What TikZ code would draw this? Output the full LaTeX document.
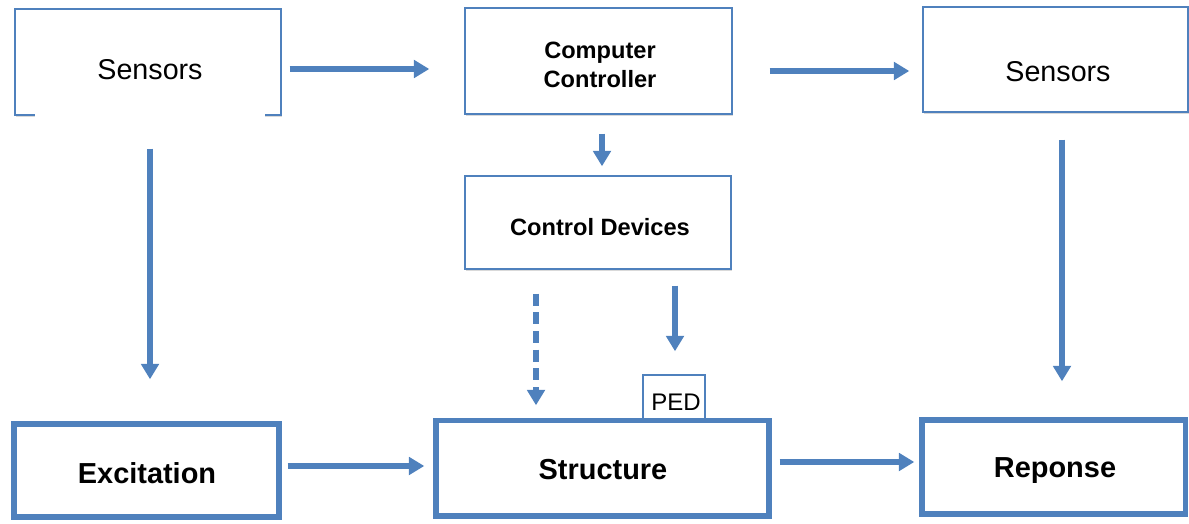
\documentclass[tikz,border=0pt]{standalone}
\usepackage{fontspec}
\setmainfont{Liberation Sans}
\usetikzlibrary{arrows.meta,shadows,fit}
\definecolor{bl}{HTML}{4F81BD}
\begin{document}
\begin{tikzpicture}[x=0.75pt,y=-0.75pt,
  shad/.style={drop shadow={shadow xshift=0.8pt,shadow yshift=-1.2pt,opacity=0.25,fill=black!60}},
  thinbox/.style={draw=bl,line width=1.1pt,fill=white,inner sep=0pt,shad},
  thickbox/.style={draw=bl,line width=4.1pt,fill=white,inner sep=0pt,shad},
  txt/.style={inner sep=0pt,anchor=base,text=black},
  reg/.style={txt,font=\fontsize{21.5pt}{26pt}\selectfont},
  bsmall/.style={txt,font=\bfseries\fontsize{17.7pt}{22pt}\selectfont},
  bbig/.style={txt,font=\bfseries\fontsize{21.7pt}{26pt}\selectfont},
  arr/.style={draw=bl,line width=4pt,-{Triangle[width=13pt,length=11.5pt]}},
  darr/.style={arr,dash pattern=on 9pt off 5pt}]
\useasboundingbox (0,0) rectangle (1189,524);

% boxes
\node[thinbox,fit={(15,9) (281,115)}] (s1) {};
\fill[white] (35,111) rectangle (265,122);
\node[thinbox,fit={(465,8) (732,114)}] (cc) {};
\node[thinbox,fit={(923,7) (1188,112)}] (s2) {};
\node[thinbox,fit={(465,176) (731,269)}] (cd) {};
\node[thinbox,fit={(643,375) (705,424)}] (ped) {};
\node[thickbox,fit={(14,424) (279,517)}] (exc) {};
\node[thickbox,fit={(436,420.5) (769,516)}] (str) {};
\node[thickbox,fit={(922,420) (1185.5,514)}] (resp) {};

% texts
\node[reg] (s1t) at (150,80) {Sensors};
\node[bsmall,anchor=center,align=center] (cct) at (600,65) {Computer\\Controller};
\node[reg] (s2t) at (1058,82) {Sensors};
\node[bsmall] (cdt) at (600,235) {Control Devices};
\node[reg,font=\fontsize{18pt}{21pt}\selectfont] (pedt) at (676,410) {PED};
\node[bbig] (exct) at (147,483) {Excitation};
\node[bbig] (strt) at (603,479) {Structure};
\node[bbig] (respt) at (1055,477) {Reponse};

% connectors
\draw[arr] ([shift={(8,7)}]s1.east) -- ([shift={(-35,8)}]cc.west);
\draw[arr] ([shift={(37,10)}]cc.east) -- ([shift={(-13,11.5)}]s2.west);
\draw[arr] ([shift={(3.5,19)}]cc.south) -- ([shift={(4,-9)}]cd.north);
\draw[arr] ([shift={(2,33)}]s1.south) -- ([shift={(3.5,-42)}]exc.north);
\draw[arr] ([shift={(6.5,27)}]s2.south) -- ([shift={(8.25,-36)}]resp.north);
\draw[darr] ([shift={(-62,24)}]cd.south) -- ([shift={(-66.5,-12.5)}]str.north);
\draw[arr] ([shift={(77,16)}]cd.south) -- ([shift={(1,-23)}]ped.north);
\draw[arr] ([shift={(6,-4.5)}]exc.east) -- ([shift={(-9,-2.25)}]str.west);
\draw[arr] ([shift={(8,-6.25)}]str.east) -- ([shift={(-5,-5)}]resp.west);
\end{tikzpicture}
\end{document}
